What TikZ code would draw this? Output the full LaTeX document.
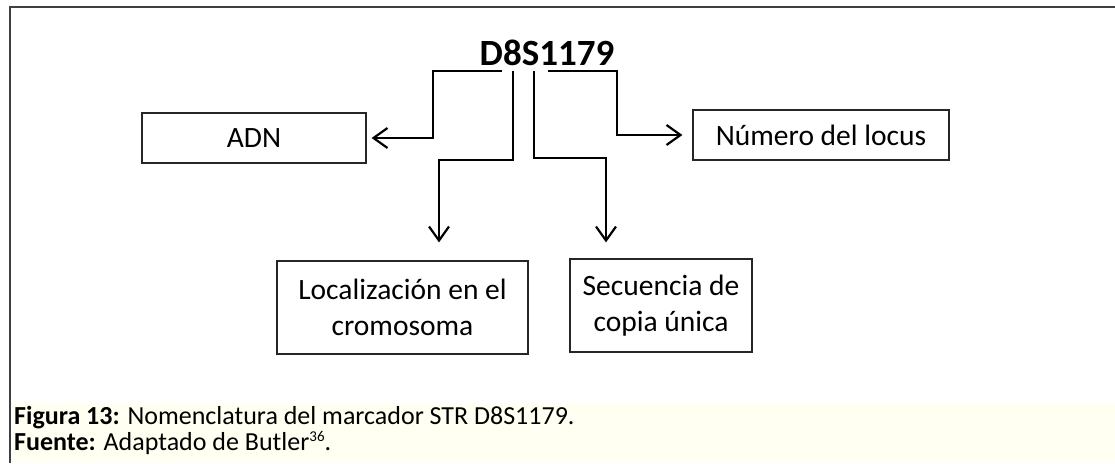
\documentclass[tikz,border=0pt]{standalone}
\usepackage{fontspec}
\setmainfont{Carlito}
\usetikzlibrary{arrows.meta,positioning}
\definecolor{capfill}{RGB}{255,255,242}
\newcommand{\refmark}[1]{\raisebox{8.5pt}{\fontsize{15}{15}\selectfont #1}}
\tikzset{
	box/.style={draw=black!85, line width=1.2pt, align=center, inner sep=0pt,
		font=\fontsize{29.5}{36}\selectfont},
	arr/.style={-{Straight Barb[length=14pt,width=20pt]}, line width=2.2pt},
	frame/.style={draw=black!75, line width=2pt},
	capt/.style={anchor=base west, inner sep=0pt, font=\fontsize{26}{22}\selectfont}
}
\begin{document}
\begin{tikzpicture}[x=1pt,y=-1pt]
	\useasboundingbox (0,0) rectangle (1115,463);

	\fill[capfill] (13,403) rectangle (1115,462);
	\draw[frame] (1115,7) -- (10,7) -- (10,463);

	\node[anchor=base, inner sep=0pt, font=\fontsize{37}{40}\selectfont\bfseries] (code) at (547,65) {D8S1179};

	\node[box, minimum width=224pt, minimum height=50pt] (adn) at (254,138) {ADN};
	\node[box, minimum width=256pt, minimum height=50pt] (num) at (821,135) {Número del locus};
	\node[box, minimum width=251pt, minimum height=93pt] (loc) at (402.5,307.5) {Localización en el\\cromosoma};
	\node[box, minimum width=182pt, minimum height=93pt] (sec) at (661,305.5) {Secuencia de\\copia única};

	% branch points under the code
	\coordinate (s1) at (502,71);
	\coordinate (s2) at (513,71);
	\coordinate (s3) at (534,71);
	\coordinate (s4) at (548,71);
	\coordinate (e1) at (433,138);
	\coordinate (e2) at (439,160);
	\coordinate (e3) at (606,158);
	\coordinate (e4) at (617,135);

	\draw[arr, shorten >=5pt] (s1) -| (e1) -- (adn.east);
	\draw[arr, shorten >=18pt] (s2) |- (e2) -- (e2 |- loc.north);
	\draw[arr, shorten >=16pt] (s3) |- (e3) -- (e3 |- sec.north);
	\draw[arr, shorten >=10pt] (s4) -| (e4) -- (num.west);

	\node[capt] (fig) at (14,424) {\textbf{Figura 13:} Nomenclatura del marcador STR D8S1179.};
	\node[capt] (src) at (14,450) {\textbf{Fuente:} Adaptado de Butler\refmark{36}.};
\end{tikzpicture}
\end{document}
